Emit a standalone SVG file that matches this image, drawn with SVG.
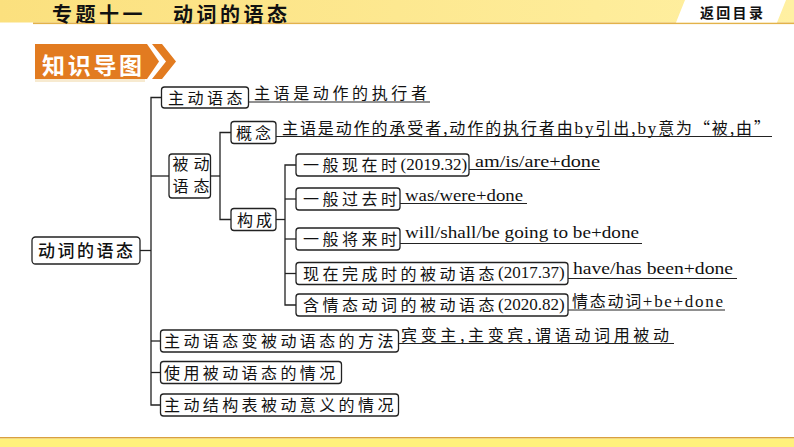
<svg xmlns="http://www.w3.org/2000/svg" width="794" height="447" viewBox="0 0 794 447">
<defs>
<linearGradient id="hdr" x1="0" y1="0" x2="1" y2="0">
<stop offset="0" stop-color="#FBE07E"/>
<stop offset="1" stop-color="#FFF0A2"/>
</linearGradient>
<style>
.box{fill:#fff;stroke:#222;stroke-width:1.3}
.cn{font-family:"Noto Sans CJK SC","Noto Sans CJK TC",sans-serif;font-size:16px;fill:#111}
.en{font-family:"Liberation Serif","Noto Sans CJK SC",serif;font-size:17px;fill:#111}
.conn{stroke:#222;stroke-width:1.3;fill:none}
.ul{stroke:#222;stroke-width:1.2}
.hd{font-family:"Noto Sans CJK SC",sans-serif;font-weight:bold;fill:#111}
</style>
</defs>
<rect width="794" height="447" fill="#fff"/>
<!-- header -->
<rect x="0" y="0" width="794" height="22.5" fill="url(#hdr)"/>
<rect x="33" y="22.5" width="761" height="1.6" fill="#E3B24A"/>
<polygon points="685,0 786,0 777,22.5 676,22.5" fill="#fff"/>
<text class="hd" x="52" y="22" font-size="20" letter-spacing="3.5">专题十一</text>
<text class="hd" x="173" y="22" font-size="20" letter-spacing="3.5">动词的语态</text>
<text class="hd" x="700" y="18" font-size="14" letter-spacing="2.3">返回目录</text>
<!-- badge -->
<rect x="35" y="79" width="110" height="3" fill="#F7EAD0"/>
<polygon points="35,44 147,44 159,61.5 147,79 35,79" fill="#E27B20"/>
<polygon points="152,44 162,44 176,61.5 162,79 152,79 166,61.5" fill="#E27B20"/>
<text x="42" y="74" font-family="'Noto Sans CJK SC',sans-serif" font-size="23" font-weight="bold" letter-spacing="2.7" fill="#fff">知识导图</text>
<!-- footer -->
<rect x="0" y="437" width="794" height="1.6" fill="#D9A040"/>
<rect x="0" y="438.6" width="794" height="8.4" fill="#FFF17C"/>

<g id="connectors">
<path class="conn" d="M140,250.5 H151"/>
<path class="conn" d="M161.5,97.5 H151 V405 H160.5"/>
<path class="conn" d="M151,176 H169"/>
<path class="conn" d="M151,341 H160.5"/>
<path class="conn" d="M151,372.5 H160.5"/>
<path class="conn" d="M210.5,176 H220"/>
<path class="conn" d="M231,132.5 H220 V219.5 H231"/>
<path class="conn" d="M276,219.5 H285"/>
<path class="conn" d="M296,165 H285 V305 H296"/>
<path class="conn" d="M285,199 H296"/>
<path class="conn" d="M285,239 H296"/>
<path class="conn" d="M285,273.5 H296"/>
</g>

<g id="root">
<rect class="box" x="32" y="237" width="108" height="27" rx="3.5"/>
<text x="38" y="257" font-family="'Noto Sans CJK SC',sans-serif" font-size="17" font-weight="500" letter-spacing="2.5" fill="#111">动词的语态</text>
</g>

<g id="active">
<rect class="box" x="161.5" y="87" width="87" height="21" rx="3"/>
<text class="cn" x="168" y="103.5" letter-spacing="3.5">主动语态</text>
<text class="cn" x="254" y="99" textLength="173" lengthAdjust="spacing">主语是动作的执行者</text>
<line class="ul" x1="249" y1="102" x2="430" y2="102"/>
</g>

<g id="passive">
<rect class="box" x="169" y="154" width="41.5" height="44" rx="3"/>
<text class="cn" x="172.5" y="170" font-size="15" letter-spacing="5">被动</text>
<text class="cn" x="172.5" y="192" font-size="15" letter-spacing="5">语态</text>
</g>

<g id="concept">
<rect class="box" x="231" y="121.5" width="45" height="22" rx="3"/>
<text class="cn" x="236" y="138.5" letter-spacing="3">概念</text>
<text class="cn" x="282" y="134" textLength="488" lengthAdjust="spacing">主语是动作的承受者,动作的执行者由<tspan class="en">by</tspan>引出,<tspan class="en">by</tspan>意为“被,由”</text>
<line class="ul" x1="276" y1="136.5" x2="772" y2="136.5"/>
</g>

<g id="form">
<rect class="box" x="231" y="208.5" width="45" height="22" rx="3"/>
<text class="cn" x="237" y="225.5" letter-spacing="3">构成</text>
</g>

<g id="present">
<rect class="box" x="296" y="154" width="173" height="22" rx="3"/>
<text class="cn" x="303" y="171" letter-spacing="3.5">一般现在时<tspan class="en" letter-spacing="0" dy="-1.5">(2019.32)</tspan></text>
<text class="en" x="475" y="167" textLength="125" lengthAdjust="spacingAndGlyphs">am/is/are+done</text>
<line class="ul" x1="469" y1="169.5" x2="600" y2="169.5"/>
</g>

<g id="past">
<rect class="box" x="296" y="188" width="104" height="22" rx="3"/>
<text class="cn" x="303" y="205" letter-spacing="3.5">一般过去时</text>
<text class="en" x="405" y="200.5" textLength="118" lengthAdjust="spacingAndGlyphs">was/were+done</text>
<line class="ul" x1="400" y1="203.5" x2="527" y2="203.5"/>
</g>

<g id="future">
<rect class="box" x="296" y="228" width="104" height="22" rx="3"/>
<text class="cn" x="303" y="245" letter-spacing="3.5">一般将来时</text>
<text class="en" x="405" y="237.5" textLength="234" lengthAdjust="spacingAndGlyphs">will/shall/be going to be+done</text>
<line class="ul" x1="400" y1="243.5" x2="642" y2="243.5"/>
</g>

<g id="perfect">
<rect class="box" x="296" y="262.5" width="272" height="22" rx="3"/>
<text class="cn" x="303" y="279.5" letter-spacing="3.5">现在完成时的被动语态<tspan class="en" letter-spacing="0" dy="-1.5">(2017.37)</tspan></text>
<text class="en" x="573" y="274" textLength="160" lengthAdjust="spacingAndGlyphs">have/has been+done</text>
<line class="ul" x1="568" y1="278.5" x2="737" y2="278.5"/>
</g>

<g id="modal">
<rect class="box" x="296" y="294" width="272" height="22" rx="3"/>
<text class="cn" x="303" y="311" letter-spacing="3.5">含情态动词的被动语态<tspan class="en" letter-spacing="0" dy="-1.5">(2020.82)</tspan></text>
<text class="cn" x="572" y="306.5" textLength="151" lengthAdjust="spacing">情态动词<tspan class="en">+be+done</tspan></text>
<line class="ul" x1="568" y1="310" x2="725" y2="310"/>
</g>

<g id="method">
<rect class="box" x="160.5" y="330" width="238" height="22" rx="3"/>
<text class="cn" x="164" y="347" letter-spacing="3.4">主动语态变被动语态的方法</text>
<text class="cn" x="401" y="341" textLength="268" lengthAdjust="spacing">宾变主,主变宾,谓语动词用被动</text>
<line class="ul" x1="398.5" y1="343.5" x2="674" y2="343.5"/>
</g>

<g id="usage">
<rect class="box" x="160.5" y="361.5" width="181" height="22" rx="3"/>
<text class="cn" x="164" y="378.5" letter-spacing="3.4">使用被动语态的情况</text>
</g>

<g id="active-passive-meaning">
<rect class="box" x="160.5" y="394" width="238" height="22" rx="3"/>
<text class="cn" x="164" y="411" letter-spacing="3.4">主动结构表被动意义的情况</text>
</g>
</svg>
